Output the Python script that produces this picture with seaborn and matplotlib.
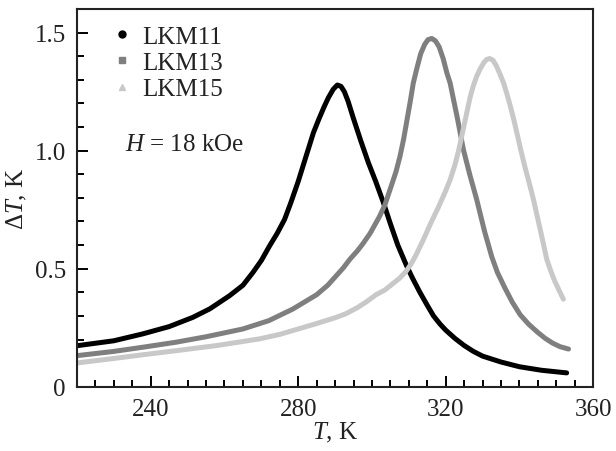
import numpy as np
import pandas as pd
import matplotlib
matplotlib.use('Agg')
import matplotlib.pyplot as plt
from matplotlib.lines import Line2D
from matplotlib.ticker import MultipleLocator
import seaborn as sns

# data
t_lkm11 = [220, 230, 237.8, 245, 251.4, 256, 261.3, 265, 267.7, 270, 272.2, 274.3, 276.3, 278,
           280, 282, 284.1, 285.5, 287, 288.2, 289.5, 290.6, 291.6, 292.5, 293.5, 295, 297,
           299, 301, 303.1, 305, 307, 309.4, 311, 313, 315, 316.7, 318.5, 320, 322.5, 325,
           327.5, 330, 335, 340, 346, 352.8]
dt_lkm11 = [0.174, 0.195, 0.224, 0.255, 0.294, 0.33, 0.385, 0.43, 0.484, 0.535, 0.596, 0.65, 0.709, 0.78,
            0.87, 0.97, 1.075, 1.13, 1.185, 1.225, 1.26, 1.278, 1.272, 1.25, 1.21, 1.135, 1.04,
            0.95, 0.87, 0.78, 0.69, 0.60, 0.512, 0.46, 0.40, 0.345, 0.30, 0.265, 0.24, 0.205, 0.175,
            0.15, 0.13, 0.105, 0.085, 0.07, 0.059]

t_lkm13 = [220, 230, 238, 246.9, 255, 265, 272, 278.5, 285, 288, 290.3, 292.3, 294, 296, 297.5,
           299.5, 302, 303.5, 305, 306.5, 307.6, 308.6, 309.5, 310.4, 311.2, 312.2, 313.2, 314.3,
           315.2, 316.2, 317.2, 318.2, 319.3, 320.3, 321.2, 322.2, 323, 324, 324.8, 326.5, 328.4,
           330.5, 332.5, 334, 336, 338, 340.2, 342.5, 345, 347, 349, 351, 353.3]
dt_lkm13 = [0.132, 0.15, 0.168, 0.189, 0.212, 0.245, 0.28, 0.329, 0.39, 0.43, 0.47, 0.505, 0.54, 0.575, 0.605,
            0.65, 0.72, 0.77, 0.84, 0.91, 0.976, 1.05, 1.13, 1.21, 1.286, 1.35, 1.41, 1.45,
            1.47, 1.475, 1.465, 1.44, 1.39, 1.33, 1.286, 1.21, 1.15, 1.07, 1.004, 0.9, 0.793,
            0.66, 0.55, 0.485, 0.42, 0.36, 0.305, 0.265, 0.23, 0.205, 0.185, 0.17, 0.16]

t_lkm15 = [220, 230, 238, 246.9, 258, 269.5, 275, 280, 285, 290.3, 293, 296, 298.5, 301.1, 303.5,
           305.5, 307.5, 309.3, 310.8, 312, 314, 316, 318, 320, 321.2, 322.5, 323.5, 324.6, 325.7,
           326.6, 327.5, 328.4, 329.3, 330.3, 331.1, 331.9, 332.8, 333.7, 334.7, 335.7, 336.6,
           337.5, 338.4, 339.3, 340.4, 341.5, 342.7, 343.8, 344.7, 345.5, 346.5, 347.4, 348.5,
           349.5, 350.7, 351.9]
dt_lkm15 = [0.101, 0.12, 0.136, 0.153, 0.175, 0.203, 0.222, 0.245, 0.268, 0.294, 0.31, 0.335, 0.36, 0.39, 0.41,
            0.435, 0.46, 0.49, 0.525, 0.56, 0.625, 0.695, 0.76, 0.83, 0.877, 0.94, 1.0, 1.08, 1.16,
            1.225, 1.275, 1.315, 1.345, 1.372, 1.386, 1.39, 1.383, 1.36, 1.325, 1.286, 1.24,
            1.19, 1.135, 1.075, 1.0, 0.93, 0.86, 0.793, 0.73, 0.675, 0.605, 0.54, 0.49,
            0.45, 0.41, 0.371]

series_names = ['LKM11', 'LKM13', 'LKM15']
series_colors = ['#000000', '#7f7f7f', '#c8c8c8']
series_markers = ['o', 's', '^']

df = pd.concat([
    pd.DataFrame({'T': t_lkm11, 'dT': dt_lkm11, 'sample': 'LKM11'}),
    pd.DataFrame({'T': t_lkm13, 'dT': dt_lkm13, 'sample': 'LKM13'}),
    pd.DataFrame({'T': t_lkm15, 'dT': dt_lkm15, 'sample': 'LKM15'}),
])

sns.set_style('ticks', {'xtick.direction': 'in', 'ytick.direction': 'in'})
plt.rcParams['font.family'] = ['Liberation Serif', 'DejaVu Serif']
plt.rcParams['mathtext.fontset'] = 'custom'
plt.rcParams['mathtext.rm'] = 'Liberation Serif'
plt.rcParams['mathtext.it'] = 'Liberation Serif:italic'

fig, ax = plt.subplots(figsize=(6.16, 4.52), dpi=100)
fig.subplots_adjust(left=0.125, right=0.963, bottom=0.142, top=0.978)

sns.lineplot(data=df, x='T', y='dT', hue='sample', hue_order=series_names,
             palette=dict(zip(series_names, series_colors)), linewidth=3.6,
             sort=False, legend=False, ax=ax)
for ln in ax.lines:
    ln.set_solid_joinstyle('round')
    ln.set_solid_capstyle('round')

ax.set_xlim(220, 360)
ax.set_ylim(0, 1.6)
ax.xaxis.set_major_locator(MultipleLocator(40))
ax.xaxis.set_minor_locator(MultipleLocator(5))
ax.set_yticks([0, 0.5, 1.0, 1.5])
ax.set_yticklabels(['0', '0.5', '1.0', '1.5'])
ax.yaxis.set_minor_locator(MultipleLocator(0.1))
ax.tick_params(which='both', direction='in', bottom=True, left=True, top=False, right=False,
               labelsize=18, width=1.4, color='black', labelcolor='#222222')
ax.tick_params(which='major', length=8, pad=8)
ax.tick_params(which='minor', length=5)
for s in ax.spines.values():
    s.set_visible(True)
    s.set_linewidth(1.5)
    s.set_color('#222222')

ax.set_xlabel('$T$, K', fontsize=18, labelpad=0, color='#222222')
ax.set_ylabel('Δ$T$, K', fontsize=18, labelpad=4, color='#222222')

ax.text(233, 1.03, '$H$ = 18 kOe', fontsize=18, va='center', ha='left', color='#222222')

handles = [Line2D([], [], linestyle='none', marker=m, color=c, markersize=5)
           for m, c in zip(series_markers, series_colors)]
leg = ax.legend(handles, series_names, loc='upper left', bbox_to_anchor=(0.03, 1.003),
                frameon=False, fontsize=18, handlelength=1.0, handletextpad=0.3,
                labelspacing=0.15, borderpad=0.2)
for txt in leg.get_texts():
    txt.set_color('#222222')

fig.savefig('out.png', dpi=100)
